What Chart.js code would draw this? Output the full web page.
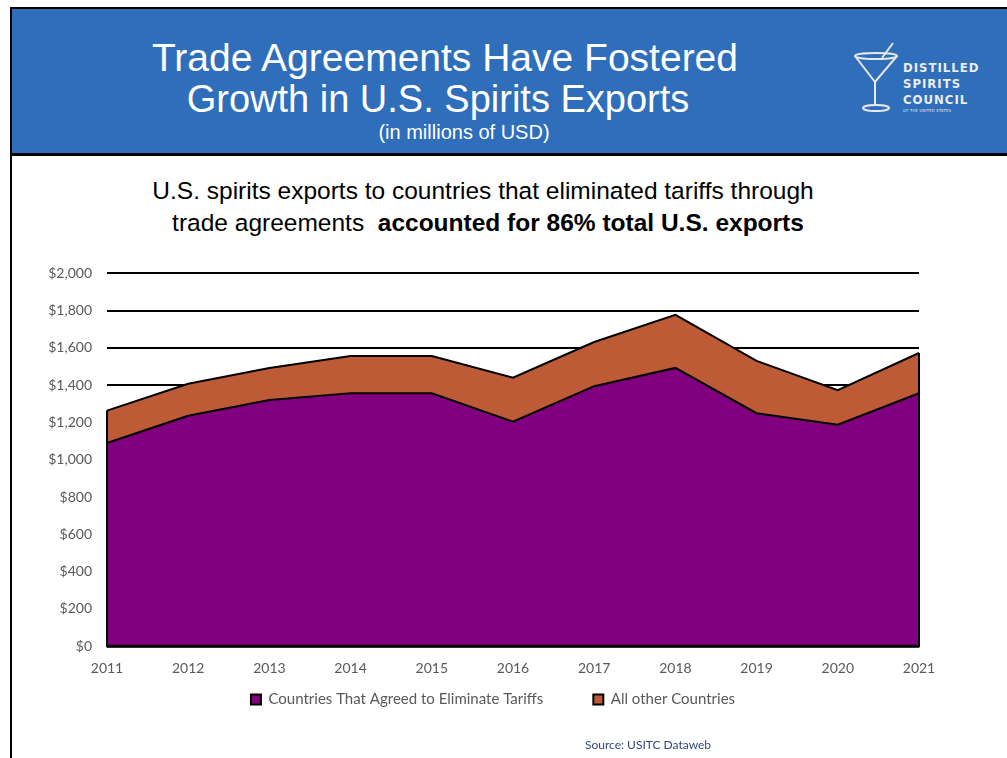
<!DOCTYPE html>
<html>
<head>
<meta charset="utf-8">
<script src="https://cdn.jsdelivr.net/npm/chart.js@4"></script>
<style>
    body { margin: 0; width: 1007px; height: 758px; background: #fff; position: relative; overflow: hidden; font-family: 'Liberation Sans', Arial, sans-serif; }
    .header { position: absolute; left: 10px; top: 7px; width: 997px; height: 144px; background: #2E6EBB; border-top: 2px solid #000; border-left: 2px solid #000; border-bottom: 3px solid #000; }
    .leftRule { position: absolute; left: 10px; top: 150px; width: 2px; height: 608px; background: #000; }
    .line { position: absolute; text-align: center; white-space: nowrap; }
    .title { color: #fff; font-size: 38px; }
    .sub { color: #000; font-size: 24.5px; }
    #chartBox { position: absolute; left: 0; top: 250px; width: 1007px; height: 508px; }
    .source { position: absolute; left: 585px; top: 737px; font-family: Lato, sans-serif; font-size: 12px; color: #2F4A7E; }
</style>
</head>
<body>
<div class="header"></div>
<div class="leftRule"></div>

<div class="line title" style="left:0; width:890px; top:36px; font-size:39px;">Trade Agreements Have Fostered</div>
<div class="line title" style="left:0; width:876px; top:78px;">Growth in U.S. Spirits Exports</div>
<div class="line title" style="left:0; width:928px; top:121px; font-size:20px;">(in millions of USD)</div>

<svg style="position:absolute; left:850px; top:38px;" width="150" height="80" viewBox="850 38 150 80">
    <g fill="none" stroke="#e8e8e8" stroke-width="2">
        <ellipse cx="876" cy="56" rx="21" ry="3"></ellipse>
        <path d="M855 56 L875 82 L897 56"></path>
        <path d="M875 82 L875 105"></path>
        <ellipse cx="876" cy="108" rx="13" ry="3"></ellipse>
        <path d="M893 43 L882 58"></path>
    </g>
    <g fill="#ececec" font-family="'DejaVu Sans Condensed', 'DejaVu Sans', sans-serif" font-weight="bold" font-size="13" letter-spacing="1">
        <text x="903" y="72">DISTILLED</text>
        <text x="903" y="88">SPIRITS</text>
        <text x="903" y="104">COUNCIL</text>
        <text x="903" y="112" font-size="4" font-weight="normal" letter-spacing="0.3">OF THE UNITED STATES</text>
    </g>
</svg>

<div class="line sub" style="left:0; width:966px; top:177px;">U.S. spirits exports to countries that eliminated tariffs through</div>
<div class="line sub" style="left:0; width:976px; top:209px;">trade agreements&nbsp; <b>accounted for 86% total U.S. exports</b></div>

<div id="chartBox"><canvas id="exportsChart"></canvas></div>
<div class="source">Source: USITC Dataweb</div>

<script>
// values in millions of USD
const years = ['2011', '2012', '2013', '2014', '2015', '2016', '2017', '2018', '2019', '2020', '2021'];
const agreedValues = [1090, 1236, 1321, 1357, 1357, 1205, 1395, 1493, 1250, 1188, 1357];
const otherValues = [174, 172, 172, 200, 200, 235, 237, 285, 281, 186, 216];
const yMin = 0;
const yMax = 2000;
const yStep = 200;

Chart.defaults.font.family = 'Lato, sans-serif';

// black outline along the bottom and both ends of the stacked area
const areaEdges = {
    id: 'areaEdges',
    afterDatasetsDraw(chart) {
        const ctx = chart.ctx;
        const top = chart.getDatasetMeta(1).data;
        const base = chart.scales.y.getPixelForValue(0);
        const first = top[0], last = top[top.length - 1];
        ctx.save();
        ctx.strokeStyle = '#000';
        ctx.lineWidth = 2;
        ctx.beginPath();
        ctx.moveTo(first.x, first.y);
        ctx.lineTo(first.x, base);
        ctx.lineTo(last.x, base);
        ctx.lineTo(last.x, last.y);
        ctx.stroke();
        ctx.lineWidth = 3;
        ctx.beginPath();
        ctx.moveTo(first.x, base);
        ctx.lineTo(last.x, base);
        ctx.stroke();
        ctx.restore();
    }
};

// the legend sits a little right of the canvas centre and closer to the axis
const legendNudge = {
    id: 'legendNudge',
    afterLayout(chart) {
        const lg = chart.legend;
        const pad = lg.options.labels.padding;
        const dx = 493 - (lg.left + lg.right) / 2;
        const dy = 450 - (lg.top + pad + 8);
        lg.left += dx; lg.right += dx;
        lg.top += dy; lg.bottom += dy;
    }
};

new Chart(document.getElementById('exportsChart'), {
    type: 'line',
    data: {
        labels: years,
        datasets: [{
            label: 'Countries That Agreed to Eliminate Tariffs',
            data: agreedValues,
            backgroundColor: '#800080',
            borderColor: '#000',
            borderWidth: 2,
            pointRadius: 0,
            tension: 0,
            fill: 'origin'
        }, {
            label: 'All other Countries',
            data: otherValues,
            backgroundColor: '#BE5B37',
            borderColor: '#000',
            borderWidth: 2,
            pointRadius: 0,
            tension: 0,
            fill: '-1'
        }]
    },
    options: {
        responsive: true,
        maintainAspectRatio: false,
        animation: false,
        layout: { padding: { top: 21, right: 88, left: 0, bottom: 0 } },
        plugins: {
            tooltip: { enabled: false },
            legend: {
                position: 'bottom',
                labels: {
                    boxWidth: 10,
                    boxHeight: 10,
                    padding: 50,
                    color: '#595959',
                    font: { size: 15 }
                }
            }
        },
        scales: {
            x: {
                grid: { display: false },
                border: { display: false },
                ticks: { color: '#595959', font: { size: 14 }, padding: 6, maxRotation: 0, autoSkip: false }
            },
            y: {
                stacked: true,
                min: yMin,
                max: yMax,
                grid: { color: '#000', lineWidth: 2, drawTicks: false },
                border: { display: false },
                ticks: {
                    stepSize: yStep,
                    color: '#595959',
                    font: { size: 14 },
                    padding: 15,
                    callback: (v) => '$' + v.toLocaleString('en-US')
                },
                afterFit(scale) { scale.width = 107; }
            }
        }
    },
    plugins: [areaEdges, legendNudge]
});
</script>
</body>
</html>
